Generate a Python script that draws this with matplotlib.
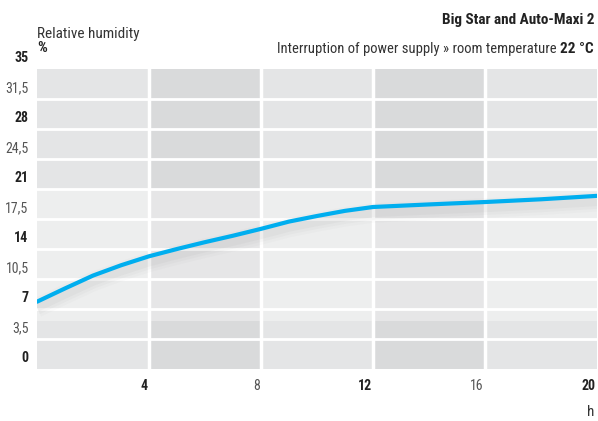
import matplotlib.pyplot as plt
import matplotlib.transforms as mtransforms
from matplotlib import font_manager

# data
hours = [0, 1, 2, 3, 4, 5, 6, 7, 8, 9, 10, 11, 12, 14, 16, 18, 20]
humidity = [7.85, 9.4, 10.9, 12.1, 13.15, 14.0, 14.8, 15.55, 16.35, 17.2, 17.85, 18.45,
            18.9, 19.2, 19.48, 19.8, 20.2]

y_ticks = [0, 3.5, 7, 10.5, 14, 17.5, 21, 24.5, 28, 31.5, 35]
y_labels = ['0', '3,5', '7', '10,5', '14', '17,5', '21', '24,5', '28', '31,5', '35']
x_ticks = [4, 8, 12, 16, 20]
x_labels = ['4', '8', '12', '16', '20']

# look for a narrow face, the original uses a condensed DIN-like font
names = {f.name for f in font_manager.fontManager.ttflist}
narrow = [n for n in ['Roboto Condensed', 'Liberation Sans Narrow', 'Open Sans Condensed',
                      'Noto Sans Condensed', 'DejaVu Sans Condensed'] if n in names]
plt.rcParams['font.family'] = narrow + ['DejaVu Sans']
plt.rcParams['font.stretch'] = 'condensed'
fs = 10 if narrow else 9

fig = plt.figure(figsize=(5.98, 4.21), dpi=100)
ax = fig.add_axes([37 / 598, (421 - 369) / 421, 560 / 598, 300 / 421])
ax.set_xlim(0, 20)
ax.set_ylim(0, 35)

# column bands
for i, x0 in enumerate(range(0, 20, 4)):
    ax.axvspan(x0, x0 + 4, color='#e4e5e6' if i % 2 == 0 else '#d9dadb', lw=0, zorder=0)
# lighter horizontal band
ax.axhspan(5.6, 21, color='white', alpha=0.35, lw=0, zorder=0.5)

# white grid
for t in y_ticks[1:-1]:
    ax.axhline(t, color='white', lw=2, zorder=1)
for t in x_ticks[:-1]:
    ax.axvline(t, color='white', lw=2.5, zorder=1)

# soft shadow under the curve
for w, a in [(14, 0.025), (10, 0.03), (6, 0.04)]:
    off = mtransforms.offset_copy(ax.transData, fig=fig, x=0, y=-6, units='dots')
    ax.plot(hours, humidity, color='#555555', lw=w, alpha=a, transform=off,
            solid_capstyle='butt', solid_joinstyle='round', zorder=2)
ax.plot(hours, humidity, color='#00aeef', lw=3, solid_capstyle='round',
        solid_joinstyle='round', zorder=3)

ax.set_xticks([])
ax.set_yticks([])
for s in ax.spines.values():
    s.set_visible(False)

# y tick labels, sitting just above their grid lines
for t, lab in zip(y_ticks, y_labels):
    bold = lab in ('0', '7', '14', '21', '28', '35')
    ax.text(-0.3, t + 0.45, lab, ha='right', va='bottom', fontsize=fs,
            fontweight='bold' if bold else 'normal', color='#222222' if bold else '#555555',
            clip_on=False)
# x tick labels, right aligned to grid lines
for t, lab in zip(x_ticks, x_labels):
    bold = lab in ('4', '12', '20')
    ax.text(t - 0.05, -1.2, lab, ha='right', va='top', fontsize=fs,
            fontweight='bold' if bold else 'normal', color='#222222' if bold else '#555555',
            clip_on=False)

fig.text(37 / 598, 1 - 38 / 421, 'Relative humidity', ha='left', va='baseline', fontsize=fs + 1, color='#333333')
fig.text(37 / 598, 1 - 52 / 421, '%', ha='left', va='baseline', fontsize=fs + 1, fontweight='bold', color='#222222')
fig.text(594 / 598, 1 - 24 / 421, 'Big Star and Auto-Maxi 2', ha='right', va='baseline',
         fontsize=fs + 1, fontweight='bold', color='#222222')
t1 = fig.text(594 / 598, 1 - 53 / 421, '22 °C', ha='right', va='baseline',
              fontsize=fs + 1, fontweight='bold', color='#222222')
fig.canvas.draw()
bb = t1.get_window_extent()
fig.text((bb.x0 - 4) / fig.bbox.width, 1 - 53 / 421, 'Interruption of power supply » room temperature',
         ha='right', va='baseline', fontsize=fs + 0.5, color='#333333')
fig.text(594 / 598, 1 - 416 / 421, 'h', ha='right', va='baseline', fontsize=fs + 1, color='#333333')

fig.savefig('out.png', dpi=100)
